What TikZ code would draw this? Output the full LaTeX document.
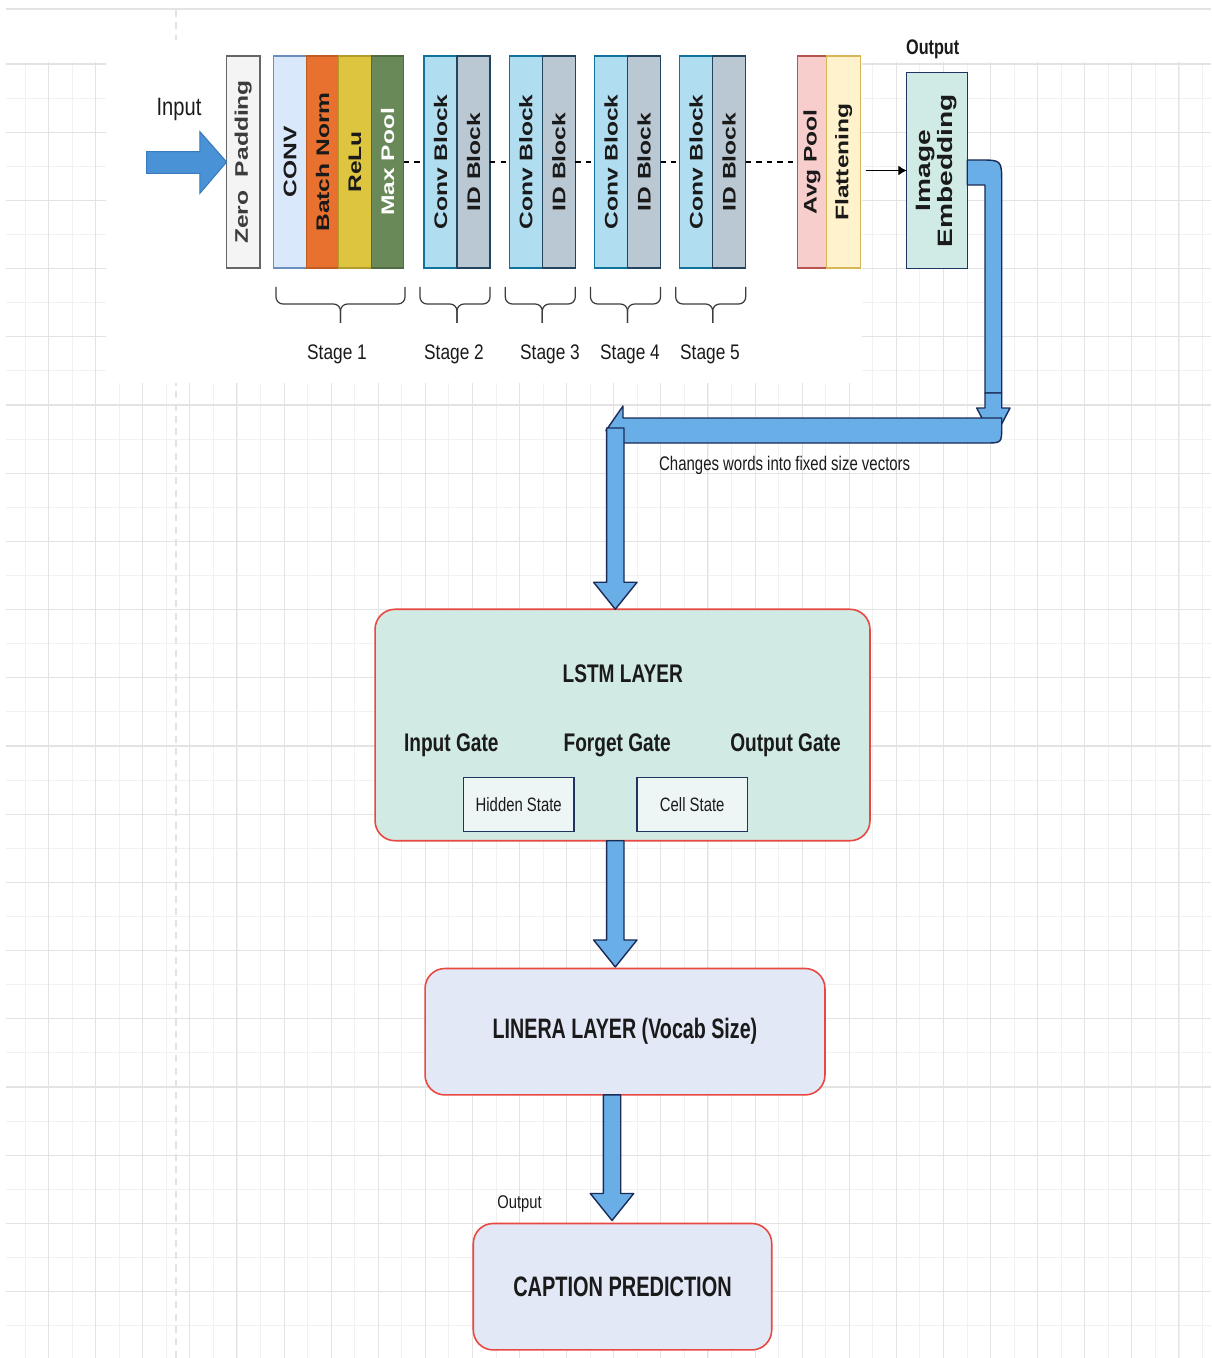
\documentclass[tikz,border=0pt]{standalone}
\usepackage{fontspec}
\setmainfont{Liberation Sans}
\usepackage{graphicx}
\usetikzlibrary{calc,arrows.meta}

\definecolor{gridlt}{HTML}{F1F1F1}
\definecolor{griddk}{HTML}{E3E3E3}
\definecolor{txt}{HTML}{1A1A1A}
\definecolor{zerofill}{HTML}{F4F4F4}
\definecolor{zeroline}{HTML}{666666}
\definecolor{c1fill}{HTML}{DAE8FC}
\definecolor{c1line}{HTML}{6C8EBF}
\definecolor{bnfill}{HTML}{E9712F}
\definecolor{bnline}{HTML}{C05C20}
\definecolor{relufill}{HTML}{DEC540}
\definecolor{reluline}{HTML}{B39B2C}
\definecolor{mpfill}{HTML}{6A8959}
\definecolor{mpline}{HTML}{4F6B41}
\definecolor{convfill}{HTML}{B1DDF0}
\definecolor{convline}{HTML}{10739E}
\definecolor{idfill}{HTML}{BAC8D3}
\definecolor{idline}{HTML}{23445D}
\definecolor{avgfill}{HTML}{F8CECC}
\definecolor{avgline}{HTML}{B85450}
\definecolor{flatfill}{HTML}{FFF2CC}
\definecolor{flatline}{HTML}{D6B656}
\definecolor{embfill}{HTML}{D0EBE6}
\definecolor{navyline}{HTML}{1F3560}
\definecolor{lstmfill}{HTML}{D2EAE4}
\definecolor{statefill}{HTML}{EEF5F5}
\definecolor{linfill}{HTML}{E3E8F7}
\definecolor{boxred}{HTML}{E8483F}
\definecolor{pipefill}{HTML}{6AAEE8}
\definecolor{pipeedge}{HTML}{1B2B57}
\definecolor{infill}{HTML}{4A92D6}
\definecolor{inedge}{HTML}{3A7BBD}

% narrow text (the screenshot is squeezed sideways)
\newcommand{\nar}[2][0.77]{\scalebox{#1}[1]{#2}}
% same squeeze for text inside the upright boxes
\newcommand{\upr}[1]{\scalebox{1}[0.74]{#1}}
% vertical block arrow from #1 down to the tip #2
\newcommand{\vpipe}[2]{%
  \draw[pipe] let \p1=(#1), \p2=(#2) in
    ($(\x1,\y1)+(-8.7,0)$) -- ($(\x1,\y2)+(-8.7,-27)$) -- ($(\x1,\y2)+(-21.7,-27)$)
    -- (\x1,\y2) -- ($(\x1,\y2)+(21.7,-27)$) -- ($(\x1,\y2)+(8.7,-27)$)
    -- ($(\x1,\y1)+(8.7,0)$) -- cycle;}

\tikzset{
  gridminor/.style={draw=gridlt, line width=0.5pt},
  gridmajor/.style={draw=griddk, line width=0.6pt},
  cnnlayer/.style={draw, rotate=90, inner sep=0pt, outer sep=0pt,
    minimum width=4.24cm, minimum height=0.65cm, line width=0.8pt,
    font=\fontsize{14}{16}\selectfont\bfseries, text=txt},
  convblk/.style={cnnlayer, fill=convfill, draw=convline, minimum height=0.66cm},
  idblk/.style={cnnlayer, fill=idfill, draw=idline, minimum height=0.66cm},
  pipe/.style={fill=pipefill, draw=pipeedge, line width=0.8pt, line join=round},
  rbox/.style={draw=boxred, rounded corners=0.4cm, line width=0.9pt,
    inner sep=0pt, outer sep=0pt, text=txt},
  sbox/.style={draw=navyline, fill=statefill, line width=0.8pt, inner sep=0pt,
    outer sep=0pt, minimum width=2.21cm, minimum height=1.08cm,
    font=\fontsize{11}{13}\selectfont, text=txt},
  lbl/.style={inner sep=0pt, text=txt},
  brc/.style={draw=txt!85, line width=0.7pt, rounded corners=0.14cm},
}

\begin{document}
\begin{tikzpicture}[x=0.02cm, y=-0.02cm]
\useasboundingbox (0,0) rectangle (1211,1358);

% canvas
\fill[white] (0,0) rectangle (1211,1358);
\draw[griddk, line width=1.1pt] (6,9) -- (1211,9);
\begin{scope}
  \clip (6,62) rectangle (1211,1358);
  \foreach \k in {0,...,51}
    \draw[gridminor] (1.45+23.55*\k,62) -- (1.45+23.55*\k,1358);
  \foreach \k in {0,...,38}
    \draw[gridminor] (6,64+34.1*\k) -- (1211,64+34.1*\k);
  \foreach \k in {0,2,...,50}
    \draw[gridmajor] (1.45+23.55*\k,62) -- (1.45+23.55*\k,1358);
  \foreach \k in {0,2,...,38}
    \draw[gridmajor] (6,64+34.1*\k) -- (1211,64+34.1*\k);
\end{scope}
\draw[griddk, dash pattern=on 4pt off 3pt, line width=0.6pt] (176,10) -- (176,1358);
\fill[white] (106,40) rectangle (862,383);

% ---- CNN part ----
\node[lbl, font=\fontsize{14.3}{16}\selectfont] (inlbl) at (179,109.5) {\nar[0.8]{Input}};
\node[cnnlayer, fill=zerofill, draw=zeroline, minimum height=0.667cm, text=txt!85] (zero) at (243.3,162) {\upr{Zero\ \ Padding}};
\node[cnnlayer, fill=c1fill, draw=c1line] (conv1) at (290,162) {\upr{CONV}};
\node[cnnlayer, fill=bnfill, draw=bnline] (bn) at (322.5,162) {\upr{Batch Norm}};
\node[cnnlayer, fill=relufill, draw=reluline] (relu) at (355,162) {\upr{ReLu}};
\node[cnnlayer, fill=mpfill, draw=mpline, text=white] (mpool) at (387.5,162) {\upr{Max Pool}};

% input arrow (tip on the zero padding box)
\draw[fill=infill, draw=inedge, line width=0.6pt] (zero.north) -- ++(-26.7,-30.3) -- ++(0,20)
  -- ++(-53.3,0) -- ++(0,21.6) -- ++(53.3,0) -- ++(0,20) -- cycle;

\node[cnnlayer, fill=avgfill, draw=avgline, minimum height=0.59cm] (avg) at (812,162) {\upr{Avg Pool}};
\node[cnnlayer, fill=flatfill, draw=flatline, minimum height=0.68cm] (flat) at (843.7,162) {\upr{Flattening}};

% stages 2-5
\draw[dashed, line width=0.6pt] (mpool.south) -- (mpool.south -| 424.3,0);
\foreach \i/\x/\s in {2/440.5/454, 3/525.8/550, 4/611/630, 5/696.2/710} {
  \node[convblk] (conv\i) at (\x,162) {\upr{Conv Block}};
  \node[idblk] (id\i) at (\x+33,162) {\upr{ID Block}};
  \draw[brc] (\x-20.5,287) -- (\x-20.5,304) -- (\x+16.5,304) -- (\x+16.5,323);
  \draw[brc] (\x+49.5,287) -- (\x+49.5,304) -- (\x+16.5,304) -- (\x+16.5,323);
  \node[lbl, font=\fontsize{12}{14}\selectfont] (st\i) at (\s,354) {\nar[0.82]{Stage \i}};
}
\draw[dashed, line width=0.6pt] (id2.south) -- (conv3.north);
\draw[dashed, line width=0.6pt] (id3.south) -- (conv4.north);
\draw[dashed, line width=0.6pt] (id4.south) -- (conv5.north);
\draw[dashed, line width=0.6pt] (id5.south) -- (avg.north);

% stage 1
\draw[brc] (276,287) -- (276,304) -- (340.5,304) -- (340.5,323);
\draw[brc] (405,287) -- (405,304) -- (340.5,304) -- (340.5,323);
\node[lbl, font=\fontsize{12}{14}\selectfont] (st1) at (337,354) {\nar[0.82]{Stage 1}};

% embedding
\node[cnnlayer, fill=embfill, draw=navyline, minimum width=3.91cm, minimum height=1.21cm,
  font=\fontsize{16}{17}\selectfont\bfseries] (emb) at (937,170.5)
  {\upr{\begin{tabular}{@{}c@{}}Image\\Embedding\end{tabular}}};
\node[lbl, font=\fontsize{12}{14}\selectfont\bfseries] (outlbl) at (932.7,49) {\nar{Output}};
\draw[-{Latex[length=0.17cm,width=0.2cm]}, line width=0.7pt]
  ($(flat.south |- emb.center)+(5,0)$) -- (emb.north);

% ---- LSTM part ----
\node[rbox, fill=lstmfill, minimum width=9.9cm, minimum height=4.63cm] (lstm) at (622.5,725) {};
\node[lbl, font=\fontsize{14.5}{16}\selectfont\bfseries] (lstmt) at (622.8,674) {\nar[0.75]{LSTM LAYER}};
\node[lbl, font=\fontsize{14.5}{16}\selectfont\bfseries] (ingate) at (451.3,745) {\nar[0.75]{Input Gate}};
\node[lbl, font=\fontsize{14.5}{16}\selectfont\bfseries] (fgate) at (617.2,745) {\nar[0.75]{Forget Gate}};
\node[lbl, font=\fontsize{14.5}{16}\selectfont\bfseries] (ogate) at (785.5,745) {\nar[0.75]{Output Gate}};
\node[sbox] (hidden) at (518.7,804.3) {\nar{Hidden State}};
\node[sbox] (cell) at (692.2,804.3) {\nar{Cell State}};

\node[rbox, fill=linfill, minimum width=8cm, minimum height=2.53cm,
  font=\fontsize{16}{18}\selectfont\bfseries] (linear) at (625,1031.7) {\nar[0.7]{LINERA LAYER (Vocab Size)}};
\node[rbox, fill=linfill, minimum width=5.97cm, minimum height=2.53cm,
  font=\fontsize{16}{18}\selectfont\bfseries] (caption) at (622.5,1286.7) {\nar[0.71]{CAPTION PREDICTION}};
\node[lbl, font=\fontsize{10.5}{12}\selectfont] (outlbl2) at (519.5,1204) {\nar[0.8]{Output}};
\node[lbl, font=\fontsize{11.2}{13}\selectfont] (chg) at (784.7,465) {\nar[0.76]{Changes words into fixed size vectors}};

% ---- block arrows ----
% embedding -> right, bend down
\draw[pipe] ($(emb.south)+(0,-10.5)$) -- (979,160) .. controls (1001.7,160) .. (1001.7,183)
  -- (1001.7,393) -- (985,393) -- (985,185) -- ($(emb.south)+(0,14.5)$) -- cycle;
\draw[pipe] (985,393) -- (1001.7,393) -- (1001.7,408) -- (1010,408) -- (993.3,440)
  -- (976.7,408) -- (985,408) -- cycle;
% back to the left
\draw[pipe] (623,418) -- (1001.7,418) -- (1001.7,427) .. controls (1001.7,443) .. (985,443)
  -- (623,443) -- (623,455) -- (606,430.5) -- (623,406) -- cycle;
\coordinate (c0) at (615.3,428);
\vpipe{c0}{$(lstm.north)+(-7.2,0)$}
\vpipe{$(lstm.south)+(-7.2,0)$}{$(linear.north)+(-10,-1.5)$}
\vpipe{$(linear.south)+(-13,0)$}{$(caption.north)+(-10.5,-3)$}
\end{tikzpicture}
\end{document}
